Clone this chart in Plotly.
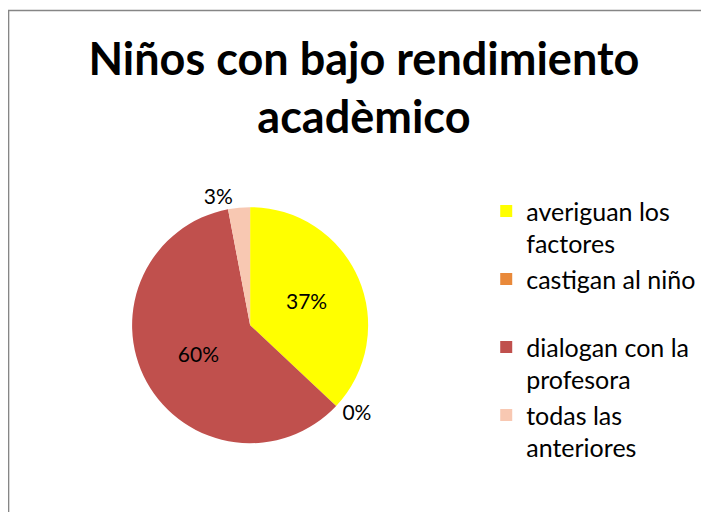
import plotly.graph_objects as go

categories = ["averiguan los<br>factores", "castigan al niño", "dialogan con la<br>profesora", "todas las<br>anteriores"]
values = [37, 0, 60, 3]
colors = ["#FFFF00", "#E9893A", "#C0504D", "#F8C8B2"]
text_positions = ["inside", "outside", "inside", "outside"]

# extra blank line after the single-line entry to mimic the legend's spacing
legend_pad = ["", "<br> ", "", ""]
labels = [c + p for c, p in zip(categories, legend_pad)]

fig = go.Figure(go.Pie(
    labels=labels,
    values=values,
    sort=False,
    direction="clockwise",
    rotation=0,
    marker=dict(colors=colors, line=dict(width=0)),
    textinfo="percent",
    texttemplate="%{percent:.0%}",
    textposition=text_positions,
    textfont=dict(size=21, color="black", family="Lato"),
    insidetextorientation="horizontal",
    domain=dict(x=[0.175, 0.508], y=[0.150, 0.611]),
    showlegend=True,
))

fig.update_layout(
    width=709, height=512,
    margin=dict(l=0, r=0, t=0, b=0),
    paper_bgcolor="white",
    font=dict(family="Lato", color="black"),
    title=dict(
        text="<b>Niños con bajo rendimiento<br>acadèmico</b>",
        x=0.502, xanchor="center", y=0.87, yanchor="top",
        font=dict(size=45, family="Lato", color="black"),
    ),
    legend=dict(
        x=0.6745, xanchor="left", y=0.648, yanchor="top",
        font=dict(size=25, color="black", family="Lato"),
        itemsizing="constant",
        valign="top",
        bgcolor="rgba(0,0,0,0)",
    ),
    shapes=[dict(
        type="rect", xref="paper", yref="paper",
        x0=0.0008, x1=1.01, y0=-0.02, y1=0.995,
        line=dict(color="#868686", width=1.5),
        layer="above",
    )],
)

fig.write_html("out.html")
